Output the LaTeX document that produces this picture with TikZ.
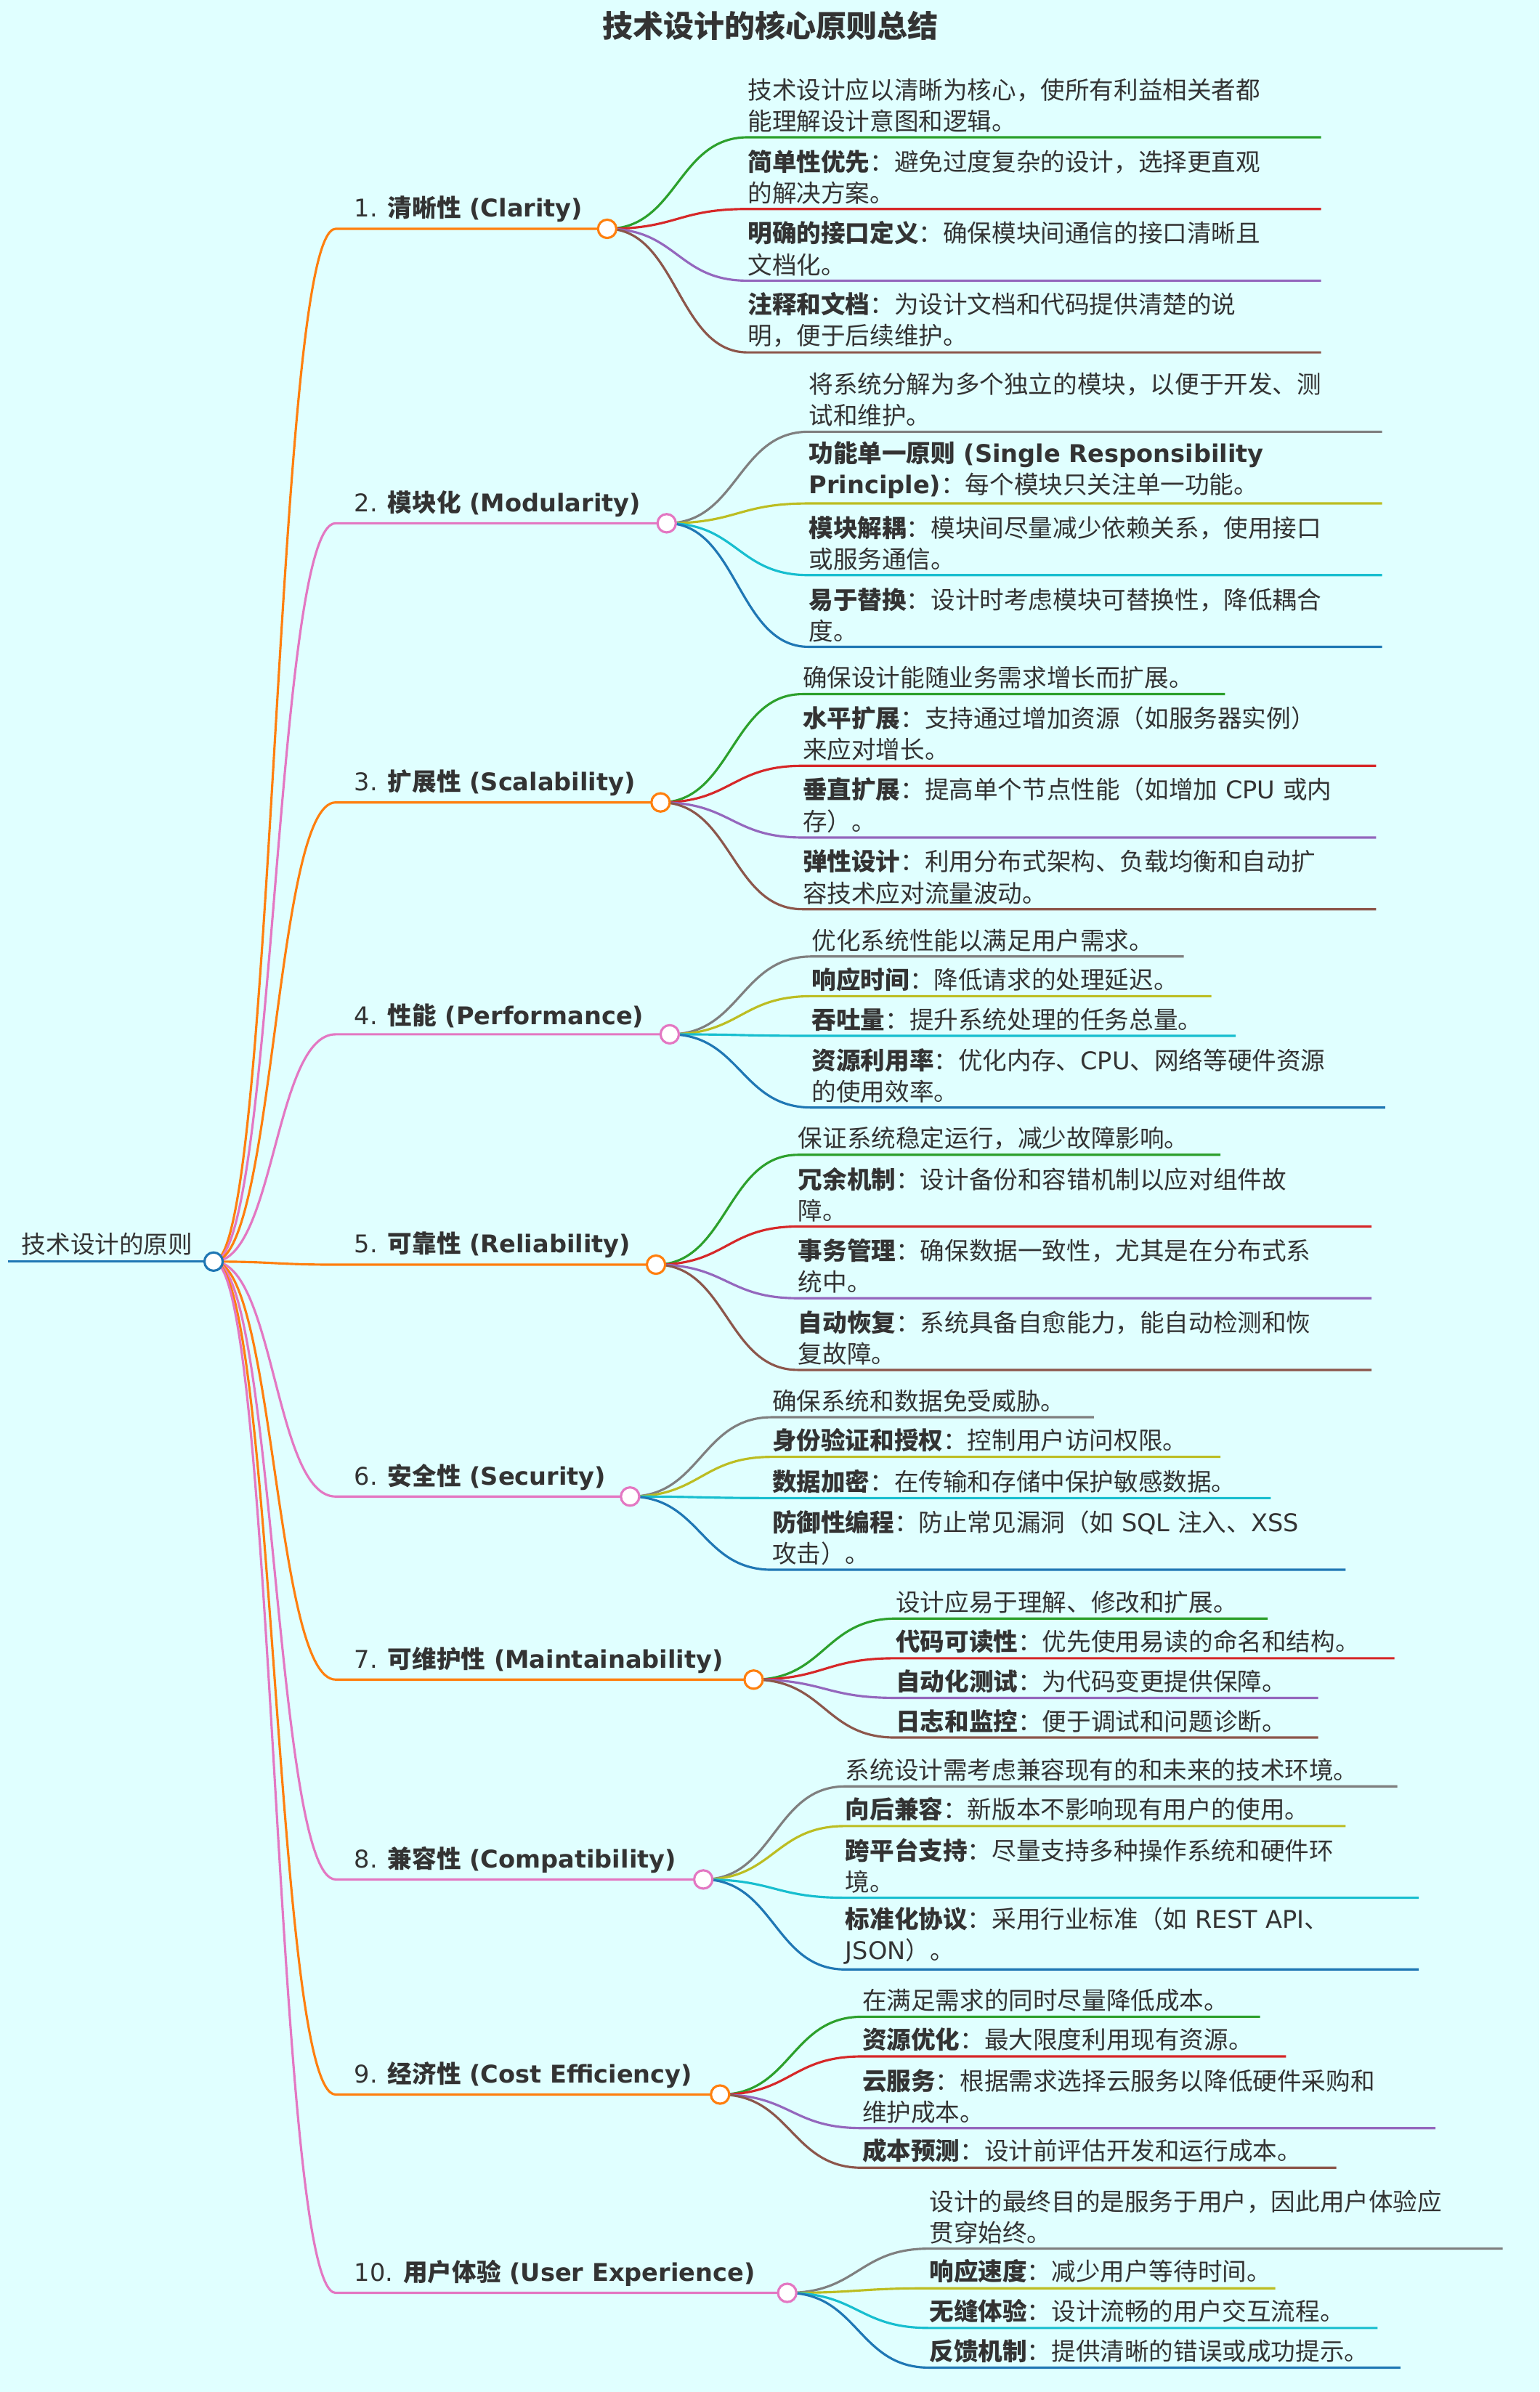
\documentclass[tikz,border=0pt]{standalone}
\usepackage{fontspec}
\setmainfont{DejaVu Sans}
\newfontfamily\cjkf{Noto Sans CJK SC}
\newXeTeXintercharclass\cjkclass
\newcount\myc
\newcommand\setcjkrange[2]{\myc=#1\relax\loop\XeTeXcharclass\myc=\cjkclass\relax\ifnum\myc<#2\advance\myc by 1\repeat}
\setcjkrange{"3000}{"303F}
\setcjkrange{"4E00}{"9FFF}
\setcjkrange{"FF00}{"FFEF}
\XeTeXinterchartoks 0 \cjkclass = {\begingroup\cjkf}
\XeTeXinterchartoks \cjkclass 0 = {\endgroup}
\XeTeXinterchartoks 4095 \cjkclass = {\begingroup\cjkf}
\XeTeXinterchartoks \cjkclass 4095 = {\endgroup}
\XeTeXinterchartokenstate=1
\definecolor{bg}{HTML}{E0FFFF}
\definecolor{txt}{HTML}{333333}
\definecolor{cor}{HTML}{FF7F0E}
\definecolor{cpk}{HTML}{E377C2}
\definecolor{cgr}{HTML}{2CA02C}
\definecolor{crd}{HTML}{D62728}
\definecolor{cpu}{HTML}{9467BD}
\definecolor{cbr}{HTML}{8C564B}
\definecolor{cgy}{HTML}{7F7F7F}
\definecolor{col}{HTML}{BCBD22}
\definecolor{ccy}{HTML}{17BECF}
\definecolor{cbl}{HTML}{1F77B4}
\tikzset{
 ttext/.style={anchor=south west,inner sep=0pt,text=txt,align=left,font=\fontsize{16}{20.5}\selectfont},
 edge/.style={line width=1.5pt},
}
\newcommand\branch[4]{% color, y, circle x, label
 \draw[edge,#1] (root) .. controls (180,827) and (180,#2) .. (220,#2) -- (#3,#2);
 \node[ttext] at (232,#2-4) {#4};}
\newcommand\bcirc[3]{\draw[#1,line width=1.5pt,fill=white] (#2,#3) circle (6);}
\newcommand\leaf[7]{% cx,cy,lx,ly,endx,color,text
 \draw[edge,#6] (#1,#2) .. controls ({(#1+#3)/2},#2) and ({(#1+#3)/2},#4) .. (#3,#4) -- (#5,#4);
 \node[ttext] at (#3,#4-3) {#7};}
\begin{document}
\begin{tikzpicture}[x=1pt,y=-1pt]
\fill[bg] (0,0) rectangle (1009,1568);
\useasboundingbox (0,0) rectangle (1009,1568);
\node[font=\fontsize{20}{24}\selectfont\bfseries,text=txt] (title) at (505,17) {技术设计的核心原则总结};
\coordinate (root) at (140,827);
% branch 1
\branch{cor}{150}{398}{1. \textbf{清晰性 (Clarity)}}
\leaf{398}{150}{490}{90}{866}{cgr}{技术设计应以清晰为核心，使所有利益相关者都\\能理解设计意图和逻辑。}
\leaf{398}{150}{490}{137}{866}{crd}{\textbf{简单性优先}：避免过度复杂的设计，选择更直观\\的解决方案。}
\leaf{398}{150}{490}{184}{866}{cpu}{\textbf{明确的接口定义}：确保模块间通信的接口清晰且\\文档化。}
\leaf{398}{150}{490}{231}{866}{cbr}{\textbf{注释和文档}：为设计文档和代码提供清楚的说\\明，便于后续维护。}
\bcirc{cor}{398}{150}
% branch 2
\branch{cpk}{343}{437}{2. \textbf{模块化 (Modularity)}}
\leaf{437}{343}{530}{283}{906}{cgy}{将系统分解为多个独立的模块，以便于开发、测\\试和维护。}
\leaf{437}{343}{530}{330}{906}{col}{\textbf{功能单一原则 (Single Responsibility}\\\textbf{Principle)}：每个模块只关注单一功能。}
\leaf{437}{343}{530}{377}{906}{ccy}{\textbf{模块解耦}：模块间尽量减少依赖关系，使用接口\\或服务通信。}
\leaf{437}{343}{530}{424}{906}{cbl}{\textbf{易于替换}：设计时考虑模块可替换性，降低耦合\\度。}
\bcirc{cpk}{437}{343}
% branch 3
\branch{cor}{526}{433}{3. \textbf{扩展性 (Scalability)}}
\leaf{433}{526}{526}{455}{803}{cgr}{确保设计能随业务需求增长而扩展。}
\leaf{433}{526}{526}{502}{902}{crd}{\textbf{水平扩展}：支持通过增加资源（如服务器实例）\\来应对增长。}
\leaf{433}{526}{526}{549}{902}{cpu}{\textbf{垂直扩展}：提高单个节点性能（如增加 CPU 或内\\存）。}
\leaf{433}{526}{526}{596}{902}{cbr}{\textbf{弹性设计}：利用分布式架构、负载均衡和自动扩\\容技术应对流量波动。}
\bcirc{cor}{433}{526}
% branch 4
\branch{cpk}{678}{439}{4. \textbf{性能 (Performance)}}
\leaf{439}{678}{532}{627}{776}{cgy}{优化系统性能以满足用户需求。}
\leaf{439}{678}{532}{653}{794}{col}{\textbf{响应时间}：降低请求的处理延迟。}
\leaf{439}{678}{532}{679}{810}{ccy}{\textbf{吞吐量}：提升系统处理的任务总量。}
\leaf{439}{678}{532}{726}{908}{cbl}{\textbf{资源利用率}：优化内存、CPU、网络等硬件资源\\的使用效率。}
\bcirc{cpk}{439}{678}
% branch 5
\branch{cor}{829}{430}{5. \textbf{可靠性 (Reliability)}}
\leaf{430}{829}{523}{757}{800}{cgr}{保证系统稳定运行，减少故障影响。}
\leaf{430}{829}{523}{804}{899}{crd}{\textbf{冗余机制}：设计备份和容错机制以应对组件故\\障。}
\leaf{430}{829}{523}{851}{899}{cpu}{\textbf{事务管理}：确保数据一致性，尤其是在分布式系\\统中。}
\leaf{430}{829}{523}{898}{899}{cbr}{\textbf{自动恢复}：系统具备自愈能力，能自动检测和恢\\复故障。}
\bcirc{cor}{430}{829}
% branch 6
\branch{cpk}{981}{413}{6. \textbf{安全性 (Security)}}
\leaf{413}{981}{506}{929}{717}{cgy}{确保系统和数据免受威胁。}
\leaf{413}{981}{506}{955}{800}{col}{\textbf{身份验证和授权}：控制用户访问权限。}
\leaf{413}{981}{506}{982}{833}{ccy}{\textbf{数据加密}：在传输和存储中保护敏感数据。}
\leaf{413}{981}{506}{1029}{882}{cbl}{\textbf{防御性编程}：防止常见漏洞（如 SQL 注入、XSS\\攻击）。}
\bcirc{cpk}{413}{981}
% branch 7
\branch{cor}{1101}{494}{7. \textbf{可维护性 (Maintainability)}}
\leaf{494}{1101}{587}{1061}{831}{cgr}{设计应易于理解、修改和扩展。}
\leaf{494}{1101}{587}{1087}{914}{crd}{\textbf{代码可读性}：优先使用易读的命名和结构。}
\leaf{494}{1101}{587}{1113}{864}{cpu}{\textbf{自动化测试}：为代码变更提供保障。}
\leaf{494}{1101}{587}{1139}{864}{cbr}{\textbf{日志和监控}：便于调试和问题诊断。}
\bcirc{cor}{494}{1101}
% branch 8
\branch{cpk}{1232}{461}{8. \textbf{兼容性 (Compatibility)}}
\leaf{461}{1232}{554}{1171}{916}{cgy}{系统设计需考虑兼容现有的和未来的技术环境。}
\leaf{461}{1232}{554}{1197}{882}{col}{\textbf{向后兼容}：新版本不影响现有用户的使用。}
\leaf{461}{1232}{554}{1244}{930}{ccy}{\textbf{跨平台支持}：尽量支持多种操作系统和硬件环\\境。}
\leaf{461}{1232}{554}{1291}{930}{cbl}{\textbf{标准化协议}：采用行业标准（如 REST API、\\JSON）。}
\bcirc{cpk}{461}{1232}
% branch 9
\branch{cor}{1373}{472}{9. \textbf{经济性 (Cost Efficiency)}}
\leaf{472}{1373}{565}{1322}{826}{cgr}{在满足需求的同时尽量降低成本。}
\leaf{472}{1373}{565}{1348}{843}{crd}{\textbf{资源优化}：最大限度利用现有资源。}
\leaf{472}{1373}{565}{1395}{941}{cpu}{\textbf{云服务}：根据需求选择云服务以降低硬件采购和\\维护成本。}
\leaf{472}{1373}{565}{1421}{876}{cbr}{\textbf{成本预测}：设计前评估开发和运行成本。}
\bcirc{cor}{472}{1373}
% branch 10
\branch{cpk}{1503}{516}{10. \textbf{用户体验 (User Experience)}}
\leaf{516}{1503}{609}{1474}{985}{cgy}{设计的最终目的是服务于用户，因此用户体验应\\贯穿始终。}
\leaf{516}{1503}{609}{1500}{836}{col}{\textbf{响应速度}：减少用户等待时间。}
\leaf{516}{1503}{609}{1526}{903}{ccy}{\textbf{无缝体验}：设计流畅的用户交互流程。}
\leaf{516}{1503}{609}{1552}{918}{cbl}{\textbf{反馈机制}：提供清晰的错误或成功提示。}
\bcirc{cpk}{516}{1503}
% root
\draw[edge,cbl] (5,827) -- (root);
\node[ttext] (rootlabel) at (14,823) {技术设计的原则};
\bcirc{cbl}{140}{827}
\end{tikzpicture}
\end{document}
